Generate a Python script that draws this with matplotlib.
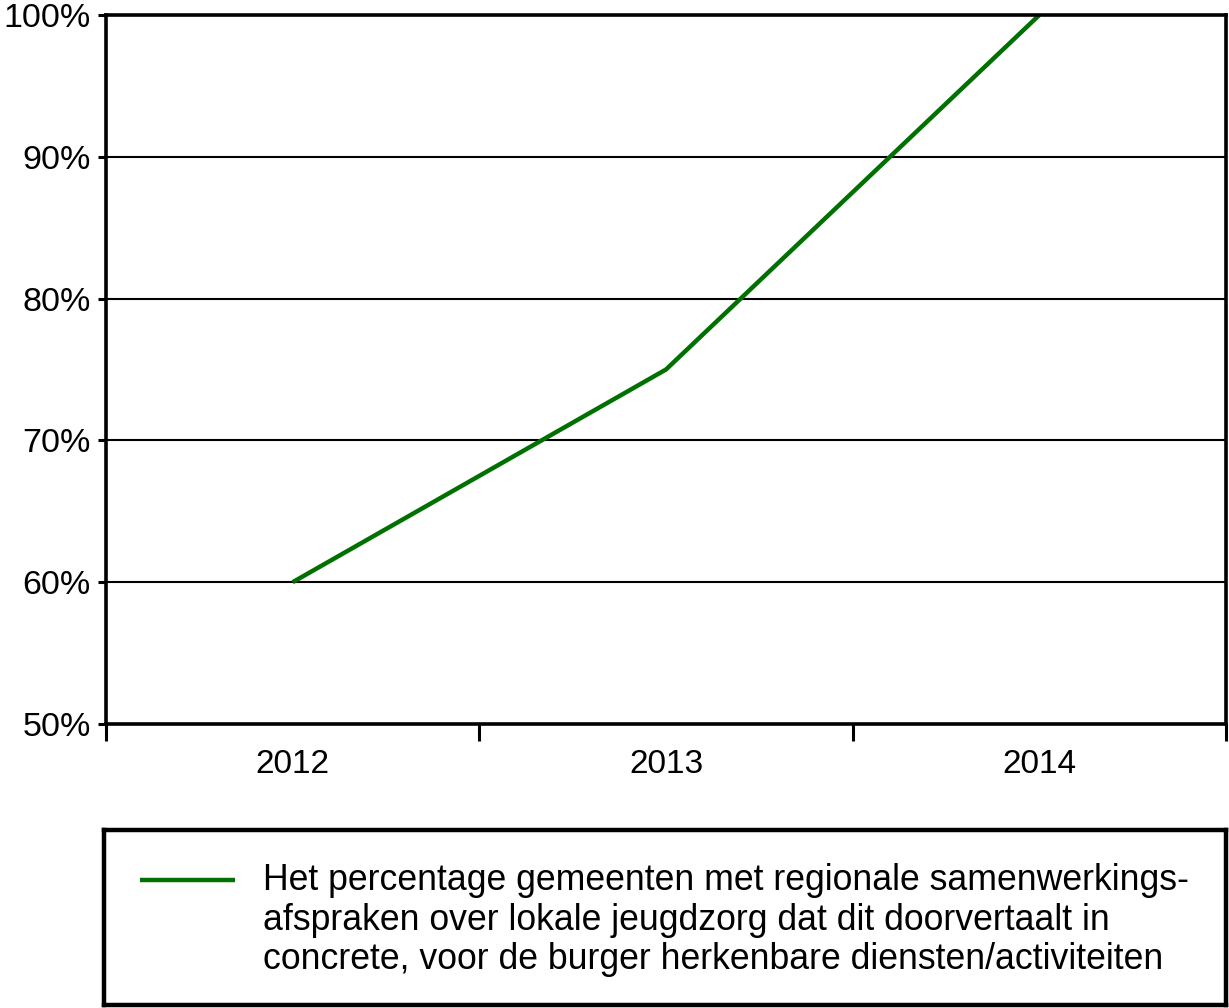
import numpy as np
import matplotlib.pyplot as plt
from matplotlib.ticker import FixedLocator

plt.rcParams['font.family'] = ['Liberation Sans', 'DejaVu Sans']

# data
years = ['2012', '2013', '2014']
percentages = [60, 75, 100]
y_ticks = [50, 60, 70, 80, 90, 100]
legend_label = ('Het percentage gemeenten met regionale samenwerkings-\n'
                'afspraken over lokale jeugdzorg dat dit doorvertaalt in\n'
                'concrete, voor de burger herkenbare diensten/activiteiten')

GREEN = '#007000'
W, H = 1229, 1008
fig = plt.figure(figsize=(W / 100, H / 100), dpi=100)

# main plot area
ax = fig.add_axes([106 / W, 1 - 724 / H, (1226 - 106) / W, (724 - 15) / H])
x = np.arange(len(years))
ax.plot(x, percentages, color=GREEN, linewidth=3.2, clip_on=False,
        solid_capstyle='butt')

ax.set_xlim(-0.5, len(years) - 0.5)
ax.set_ylim(50, 100)

ax.set_yticks(y_ticks)
ax.set_yticklabels([f'{v}%' for v in y_ticks])
ax.yaxis.grid(True, color='black', linewidth=1.5)
ax.set_axisbelow(True)

# category labels in the middle, tick marks between categories
ax.set_xticks(x)
ax.set_xticklabels(years)
ax.xaxis.set_minor_locator(FixedLocator(np.arange(-0.5, len(years), 1.0)))
ax.tick_params(axis='x', which='major', length=0, pad=18, labelsize=24)
ax.tick_params(axis='x', which='minor', length=12, width=2.2, direction='out')
ax.tick_params(axis='y', length=6, width=2.2, direction='out', pad=5, labelsize=24.5)

for sp in ax.spines.values():
    sp.set_linewidth(2.6)

# legend box below the plot
leg_ax = fig.add_axes([104 / W, 1 - 1005 / H, (1226 - 104) / W, (1005 - 830) / H])
leg_ax.set_xlim(0, 1)
leg_ax.set_ylim(0, 1)
leg_ax.set_xticks([])
leg_ax.set_yticks([])
for sp in leg_ax.spines.values():
    sp.set_linewidth(3.2)
leg_ax.plot([0.032, 0.117], [0.714, 0.714], color=GREEN, linewidth=3.2,
            solid_capstyle='butt')
leg_ax.text(0.1417, 0.81, legend_label, fontsize=25.7, va='top', ha='left',
            linespacing=1.17)

fig.savefig('out.png', dpi=100)
